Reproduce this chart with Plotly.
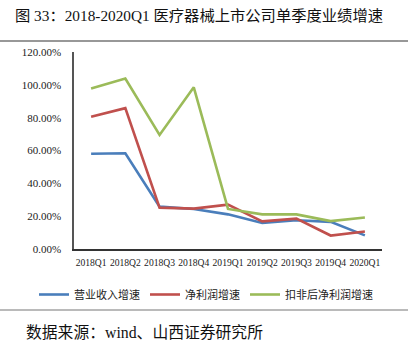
import plotly.graph_objects as go

categories = ["2018Q1", "2018Q2", "2018Q3", "2018Q4", "2019Q1", "2019Q2", "2019Q3", "2019Q4", "2020Q1"]
revenue_growth = [58.0, 58.3, 25.8, 24.4, 21.1, 15.9, 17.5, 16.5, 8.3]
net_profit_growth = [80.5, 85.8, 25.2, 24.6, 27.0, 16.8, 18.5, 8.2, 10.7]
deducted_profit_growth = [97.7, 103.8, 69.5, 98.5, 24.4, 21.1, 21.1, 17.0, 19.2]
series_names = ["营业收入增速", "净利润增速", "扣非后净利润增速"]
colors = ["#4A7EBB", "#C0504D", "#9BBB59"]
y_ticks = [0, 20, 40, 60, 80, 100, 120]
y_tick_labels = ["0.00%", "20.00%", "40.00%", "60.00%", "80.00%", "100.00%", "120.00%"]

W, H = 408, 340
L, R, T, B = 74, 26, 52, 91
pw, ph = W - L - R, H - T - B

def px_x(x):
    return (x - L) / pw

def px_y(y):
    return (H - B - y) / ph

serif = "Liberation Serif, Times New Roman, serif"
cjk = "Liberation Serif, Noto Sans CJK SC, sans-serif"

fig = go.Figure()
for vals, name, c in zip([revenue_growth, net_profit_growth, deducted_profit_growth], series_names, colors):
    fig.add_trace(go.Scatter(x=categories, y=vals, name=name, mode="lines",
                             line=dict(color=c, width=2.6)))

fig.update_layout(
    width=W, height=H, autosize=False,
    margin=dict(l=L, r=R, t=T, b=B, pad=0),
    paper_bgcolor="white", plot_bgcolor="white",
    showlegend=True,
    legend=dict(orientation="h", x=px_x(34), y=px_y(280), xanchor="left", yanchor="top",
                font=dict(family=cjk, size=11, color="#222222"),
                itemwidth=30, tracegroupgap=0, bgcolor="rgba(0,0,0,0)"),
    xaxis=dict(type="category", showgrid=False, zeroline=False, showline=True,
               linecolor="#333333", linewidth=1.5, ticks="", tickangle=0,
               tickfont=dict(family=serif, size=9.6, color="#222222"),
               range=[-0.5, 8.5], fixedrange=True, ticklabelstandoff=4),
    yaxis=dict(range=[0, 120], tickvals=y_ticks, ticktext=y_tick_labels,
               showgrid=False, zeroline=False, showline=True,
               linecolor="#555555", linewidth=1.5, ticks="",
               tickfont=dict(family=serif, size=11, color="#222222"),
               ticklabelstandoff=9),
)

fig.add_annotation(text="图 33：2018-2020Q1 医疗器械上市公司单季度业绩增速",
                   xref="paper", yref="paper", x=px_x(13), y=px_y(15),
                   xanchor="left", yanchor="middle", showarrow=False,
                   font=dict(family=cjk, size=15.3, color="#111111"))
fig.add_annotation(text="数据来源：wind、山西证券研究所",
                   xref="paper", yref="paper", x=px_x(24), y=px_y(332),
                   xanchor="left", yanchor="middle", showarrow=False,
                   font=dict(family=cjk, size=15.8, color="#111111"))

fig.add_shape(type="line", xref="paper", yref="paper", x0=px_x(0), x1=px_x(W),
              y0=px_y(41), y1=px_y(41), line=dict(color="#333333", width=1.2))
fig.add_shape(type="line", xref="paper", yref="paper", x0=px_x(0), x1=px_x(W),
              y0=px_y(310), y1=px_y(310), line=dict(color="#777777", width=1.2))

fig.write_html("out.html")
